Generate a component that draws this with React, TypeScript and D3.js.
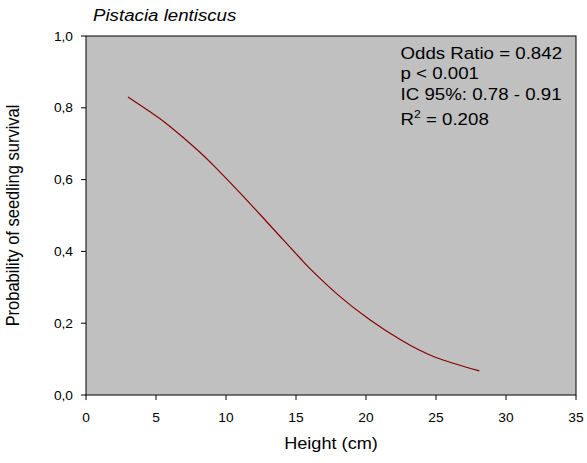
import React from "react";
import * as d3 from "d3";

const heights = [3.0, 4.6, 6, 8, 9.3, 11, 12.5, 14, 15.3, 16, 18, 20.3, 22.5, 24.9, 28.1];
const survival = [0.83, 0.788, 0.748, 0.681, 0.632, 0.563, 0.5, 0.436, 0.381, 0.352, 0.279, 0.209, 0.153, 0.106, 0.067];
const xTicks = [0, 5, 10, 15, 20, 25, 30, 35];
const yTicks = [0, 0.2, 0.4, 0.6, 0.8, 1.0];
const title = "Pistacia lentiscus";
const xTitle = "Height (cm)";
const yTitle = "Probability of seedling survival";
const statLines = ["Odds Ratio = 0.842", "p < 0.001", "IC 95%: 0.78 - 0.91"];

const W = 587, H = 463;
const L = 86, R = 576, T = 36, B = 395;
const FONT = "'Liberation Sans', Arial, sans-serif";
const SX = 1.1;

export default function App() {
  const x = d3.scaleLinear().domain([0, 35]).range([L, R]);
  const y = d3.scaleLinear().domain([0, 1]).range([B, T]);
  const pts = heights.map((h, i) => [h, survival[i]] as [number, number]);
  const line = d3.line<[number, number]>().x(d => x(d[0])).y(d => y(d[1])).curve(d3.curveNatural);
  const fmt = (v: number) => v.toFixed(1).replace(".", ",");
  const st = (tx: number, ty: number) => `translate(${tx},${ty}) scale(${SX},1)`;
  return (
    <svg width={W} height={H} style={{ position: "fixed", left: 0, top: 0 }} fontFamily={FONT}>
      <rect x={0} y={0} width={W} height={H} fill="#fff" />
      <rect x={L} y={T} width={R - L} height={B - T} fill="#c0c0c0" />
      <path d={line(pts) || ""} fill="none" stroke="#8b0000" strokeWidth={1.2} />
      <rect x={L} y={T} width={R - L} height={B - T} fill="none" stroke="#000" strokeWidth={1} />
      {xTicks.map(t => (
        <g key={"x" + t}>
          <line x1={x(t)} x2={x(t)} y1={B} y2={B + 5} stroke="#000" />
          <text transform={st(x(t), 421.5)} textAnchor="middle" fontSize={12.5}>{t}</text>
        </g>
      ))}
      {yTicks.map(t => (
        <g key={"y" + t}>
          <line x1={L - 5} x2={L} y1={y(t)} y2={y(t)} stroke="#000" />
          <text transform={st(73, y(t) + 4.5)} textAnchor="end" fontSize={12.5}>{fmt(t)}</text>
        </g>
      ))}
      <text transform={st(93, 20.5)} fontSize={17} fontStyle="italic">{title}</text>
      <text transform={st((L + R) / 2, 449)} textAnchor="middle" fontSize={16.5}>{xTitle}</text>
      <text transform={`translate(18.5,${(T + B) / 2}) rotate(-90) scale(1,${SX})`} textAnchor="middle" fontSize={16.5}>{yTitle}</text>
      {statLines.map((s, i) => (
        <text key={s} transform={st(400.5, 58.5 + i * 20.5)} fontSize={17}>{s}</text>
      ))}
      <text transform={st(400.5, 124.5)} fontSize={17}>
        R<tspan fontSize={11} dy={-7}>2</tspan><tspan dy={7}> = 0.208</tspan>
      </text>
    </svg>
  );
}
